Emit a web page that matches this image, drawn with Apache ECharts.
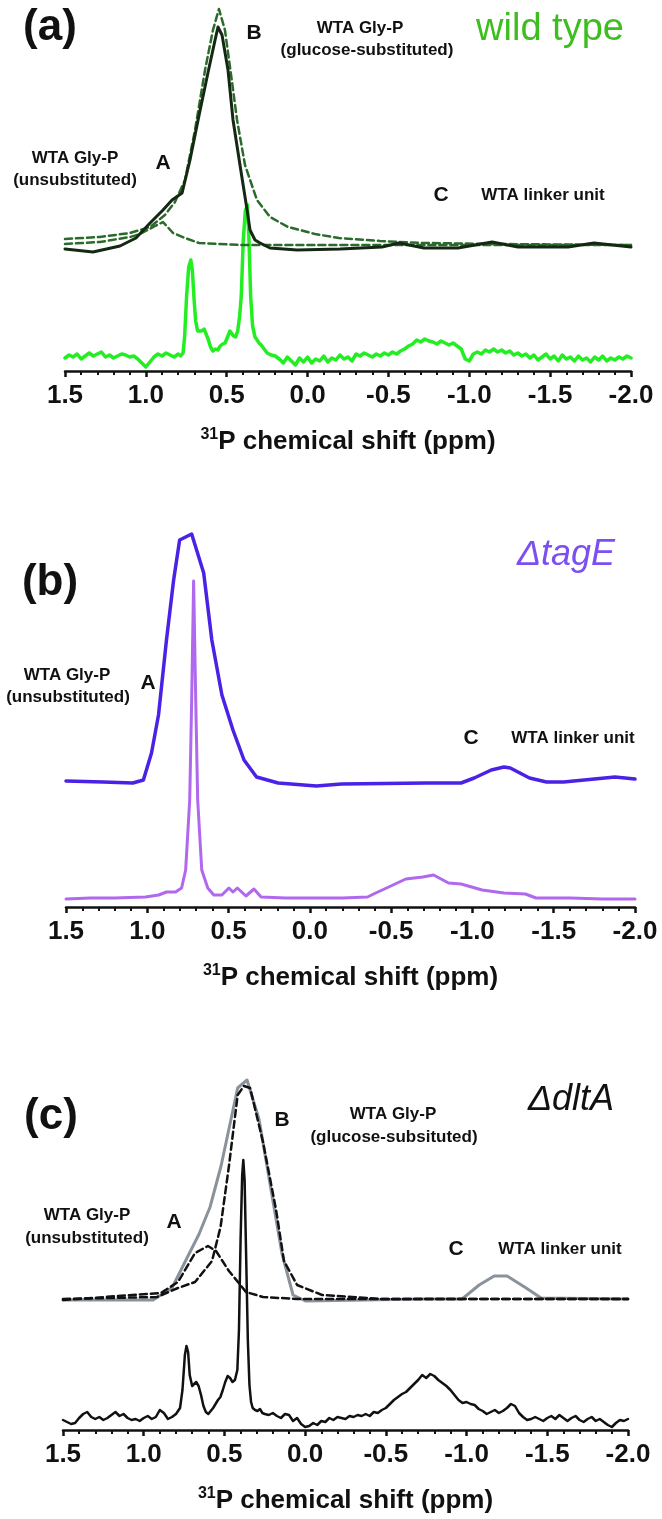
<!DOCTYPE html>
<html><head><meta charset="utf-8">
<script src="https://cdn.jsdelivr.net/npm/echarts@6/dist/echarts.min.js"></script>
<style>html,body{margin:0;padding:0;background:#fff}#c{width:662px;height:1519px}</style>
</head><body><div id="c"></div>
<script>
// ---------- axis ----------
const axisMin = -2.0, axisMax = 1.5, axisStep = 0.5;
const axisTitle = 'P chemical shift (ppm)';
const axisTitleSup = '31';

// ---------- panel (a) wild type ----------
const aGreenX = [1.5,1.475,1.45,1.425,1.4,1.375,1.35,1.325,1.3,1.275,1.25,1.225,1.2,1.175,1.15,1.125,1.1,1.075,1.05,1.025,1.0,0.975,0.95,0.925,0.9,0.875,0.85,0.825,0.8,0.785,0.77,0.76,0.748,0.735,0.722,0.712,0.702,0.692,0.68,0.668,0.655,0.64,0.628,0.615,0.6,0.585,0.57,0.555,0.54,0.525,0.51,0.495,0.48,0.47,0.458,0.445,0.432,0.42,0.41,0.398,0.385,0.372,0.362,0.352,0.34,0.325,0.312,0.3,0.287,0.275,0.25,0.225,0.2,0.175,0.15,0.125,0.1,0.075,0.05,0.025,0.0,-0.025,-0.05,-0.075,-0.1,-0.125,-0.15,-0.175,-0.2,-0.225,-0.25,-0.275,-0.3,-0.325,-0.35,-0.375,-0.4,-0.425,-0.45,-0.475,-0.5,-0.525,-0.55,-0.575,-0.6,-0.625,-0.65,-0.675,-0.7,-0.725,-0.75,-0.775,-0.8,-0.825,-0.85,-0.875,-0.9,-0.925,-0.95,-0.975,-1.0,-1.025,-1.05,-1.075,-1.1,-1.125,-1.15,-1.175,-1.2,-1.225,-1.25,-1.275,-1.3,-1.325,-1.35,-1.375,-1.4,-1.425,-1.45,-1.475,-1.5,-1.525,-1.55,-1.575,-1.6,-1.625,-1.65,-1.675,-1.7,-1.725,-1.75,-1.775,-1.8,-1.825,-1.85,-1.875,-1.9,-1.925,-1.95,-1.975,-2.0];
const aGreenY = [13,16,14,17,12,15,18,15,17,19,14,16,13,15,17,16,14,15,12,8,4,9,14,17,15,18,16,14,17,15,18,35,75,104,111,100,72,50,40,38,40,42,41,32,24,20,22,21,25,27,28,34,40,41,35,34,40,55,75,130,160,166,130,75,45,34,31,28,26,24,18,16,15,12,8,14,10,6,13,9,14,8,12,10,15,9,13,11,16,12,14,10,17,15,18,16,14,17,15,18,16,19,17,20,22,25,27,31,29,32,30,29,27,30,28,26,28,25,22,12,10,17,19,17,21,19,22,19,21,18,20,16,18,15,17,13,16,11,14,17,12,15,10,16,12,14,10,15,11,13,9,14,11,15,10,13,11,14,12,15,13];
const aSumX = [1.5,1.327,1.16,1.061,0.974,0.894,0.838,0.776,0.727,0.677,0.615,0.572,0.554,0.529,0.492,0.461,0.418,0.374,0.356,0.325,0.294,0.232,0.065,-0.201,-0.46,-0.566,-0.72,-0.93,-1.141,-1.301,-1.611,-1.771,-2.0];
const aSumY = [122,119,125,133,148,161,171,178,211,251,299,331,344,336,301,251,206,161,141,131,128,123,121,122,124,128,123,123,129,124,124,128,124];
const aFitBX = [1.5,1.284,1.098,0.974,0.882,0.82,0.758,0.696,0.634,0.585,0.548,0.511,0.473,0.436,0.387,0.313,0.232,0.121,-0.046,-0.194,-0.448,-0.72,-1.19,-2.0];
const aFitBY = [132,134,138,144,156,169,191,241,301,341,362,341,296,251,206,171,154,144,137,133,130,128,127,126];
const aFitAX = [1.5,1.284,1.098,1.036,0.943,0.894,0.832,0.758,0.671,0.418,-2.0];
const aFitAY = [127,129,134,137,145,149,138,133,128,126,126];

// ---------- panel (b) ΔtagE ----------
const bBlueX = [1.5,1.271,1.089,1.024,0.974,0.931,0.882,0.838,0.801,0.727,0.653,0.603,0.541,0.473,0.405,0.328,0.195,-0.04,-0.194,-0.72,-0.93,-1.011,-1.116,-1.194,-1.233,-1.351,-1.456,-1.561,-1.877,-2.0];
const bBlueY = [126,125,124,127,154,192,267,327,367,373,334,267,212,177,147,130,124,121,123,124,124,129,137,140,139,129,125,125,130,128];
const bPurpleX = [1.5,1.35,1.2,1.011,0.93,0.882,0.826,0.789,0.764,0.739,0.727,0.715,0.702,0.69,0.665,0.628,0.591,0.541,0.498,0.473,0.446,0.393,0.344,0.3,0.15,0.047,-0.201,-0.355,-0.405,-0.485,-0.59,-0.695,-0.761,-0.853,-0.93,-1.06,-1.194,-1.326,-1.391,-1.6,-1.8,-2.0];
const bPurpleY = [8,9,9,10,12,15,15,19,37,107,207,326,207,107,37,19,12,12,19,15,19,11,18,10,9,9,9,10,14,20,28,30,32,24,23,17,14,13,9,9,8,8];

// ---------- panel (c) ΔdltA ----------
const cGrayX = [1.5,0.942,0.825,0.732,0.657,0.589,0.521,0.418,0.36,0.286,0.208,0.143,0.075,-0.002,-0.737,-0.972,-1.078,-1.171,-1.251,-1.369,-1.462,-2.0];
const cGrayY = [130,130,142,172,196,223,264,342,350,311,237,176,135,129,131,131,145,154,154,142,132,131];
const cFitBX = [1.5,0.918,0.788,0.682,0.577,0.524,0.472,0.418,0.379,0.341,0.261,0.18,0.131,0.05,-0.105,-0.476,-2.0];
const cFitBY = [131,133,142,148,169,203,264,335,344,342,288,220,169,145,135,131,131];
const cFitAX = [1.5,0.893,0.788,0.682,0.602,0.552,0.472,0.366,0.261,0.05,-2.0];
const cFitAY = [130,137,148,177,184,179,159,138,133,131,131];
const cBlackX = [1.5,1.475,1.45,1.425,1.4,1.375,1.35,1.325,1.3,1.275,1.25,1.225,1.2,1.175,1.15,1.125,1.1,1.075,1.05,1.025,1.0,0.975,0.95,0.925,0.9,0.875,0.85,0.825,0.8,0.775,0.76,0.745,0.735,0.725,0.715,0.7,0.69,0.675,0.66,0.645,0.63,0.615,0.6,0.585,0.57,0.555,0.54,0.525,0.51,0.495,0.48,0.465,0.45,0.435,0.42,0.41,0.4,0.39,0.383,0.375,0.365,0.355,0.345,0.335,0.325,0.31,0.295,0.28,0.265,0.25,0.225,0.2,0.175,0.15,0.125,0.1,0.075,0.05,0.025,0.0,-0.025,-0.05,-0.075,-0.1,-0.125,-0.15,-0.175,-0.2,-0.225,-0.25,-0.275,-0.3,-0.325,-0.35,-0.375,-0.4,-0.425,-0.45,-0.475,-0.5,-0.525,-0.55,-0.575,-0.6,-0.625,-0.65,-0.675,-0.7,-0.725,-0.75,-0.775,-0.8,-0.825,-0.85,-0.875,-0.9,-0.925,-0.95,-0.975,-1.0,-1.025,-1.05,-1.075,-1.1,-1.125,-1.15,-1.175,-1.2,-1.225,-1.25,-1.275,-1.3,-1.325,-1.35,-1.375,-1.4,-1.425,-1.45,-1.475,-1.5,-1.525,-1.55,-1.575,-1.6,-1.625,-1.65,-1.675,-1.7,-1.725,-1.75,-1.775,-1.8,-1.825,-1.85,-1.875,-1.9,-1.925,-1.95,-1.975,-2.0];
const cBlackY = [10,8,6,7,12,16,18,13,11,13,10,12,15,18,14,16,12,10,11,9,12,14,11,13,20,17,11,13,16,22,40,75,84,78,55,44,42,48,44,35,24,18,16,19,22,26,30,33,40,48,54,52,48,50,60,100,190,255,270,250,170,90,45,28,22,20,19,21,17,16,15,17,14,12,16,15,9,12,6,3,4,7,5,9,8,12,10,13,12,11,14,13,15,14,16,14,18,17,20,22,26,30,33,36,38,42,46,50,55,52,56,54,50,47,44,40,35,30,27,28,26,25,21,19,16,18,20,17,19,22,26,24,17,13,10,11,13,11,9,12,14,11,15,12,9,12,14,10,8,11,13,9,11,8,5,3,7,10,9,11];

// ---------- build ----------
const zip = (xs, ys) => xs.map((x, i) => [x, ys[i]]);
const FONT = "'Liberation Sans', Arial, Helvetica, sans-serif";
const INK = '#111111';

const grids = [
  {left: 65, right: 31, top: 0, height: 371},
  {left: 66, right: 27, top: 500, height: 407},
  {left: 63, right: 34, top: 1030, height: 400}
];

function xAxisFor(i) {
  return {
    type: 'value', gridIndex: i, min: axisMin, max: axisMax, interval: axisStep, inverse: true,
    axisLine: {show: true, onZero: false, lineStyle: {color: INK, width: 2.5}},
    axisTick: {show: true, length: 6, lineStyle: {color: INK, width: 2.5}},
    minorTick: {show: true, splitNumber: 5, length: 4, lineStyle: {color: INK, width: 2}},
    splitLine: {show: false},
    axisLabel: {formatter: v => v.toFixed(1), fontSize: 26, fontWeight: 'bold', color: INK, fontFamily: FONT, margin: 12},
    name: '{s|' + axisTitleSup + '}{m|' + axisTitle + '}',
    nameLocation: 'middle', nameGap: 56,
    nameTextStyle: {
      color: INK, fontFamily: FONT, fontWeight: 'bold', fontSize: 26,
      rich: {
        s: {fontSize: 16, fontWeight: 'bold', fontFamily: FONT, color: INK, verticalAlign: 'top', lineHeight: 30},
        m: {fontSize: 26, fontWeight: 'bold', fontFamily: FONT, color: INK, lineHeight: 30}
      }
    }
  };
}
function yAxisFor(i, h) {
  return {type: 'value', gridIndex: i, min: 0, max: h, show: false};
}
function line(i, data, color, width, dashed, z) {
  return {
    type: 'line', xAxisIndex: i, yAxisIndex: i, data: data, showSymbol: false, symbol: 'none',
    lineStyle: {color: color, width: width, type: dashed ? [7, 4] : 'solid', cap: 'round', join: 'round'},
    z: z || 2, animation: false, silent: true
  };
}

function txt(x, y, s, size, opts) {
  opts = opts || {};
  return {
    type: 'text', x: x, y: y, silent: true,
    style: {
      text: s, fontSize: size, fontFamily: FONT, fontWeight: opts.weight || 'bold',
      fontStyle: opts.style || 'normal', fill: opts.color || INK,
      align: opts.align || 'center', verticalAlign: 'middle'
    }
  };
}

const option = {
  animation: false,
  backgroundColor: '#ffffff',
  grid: grids,
  xAxis: [xAxisFor(0), xAxisFor(1), xAxisFor(2)],
  yAxis: [yAxisFor(0, 371), yAxisFor(1, 407), yAxisFor(2, 400)],
  series: [
    line(0, zip(aGreenX, aGreenY), '#22ee22', 3.5, false, 2),
    line(0, zip(aFitAX, aFitAY), '#2a6a2a', 2.5, true, 3),
    line(0, zip(aFitBX, aFitBY), '#2a6a2a', 2.5, true, 3),
    line(0, zip(aSumX, aSumY), '#142814', 3, false, 4),
    line(1, zip(bBlueX, bBlueY), '#4a22e6', 3.5, false, 3),
    line(1, zip(bPurpleX, bPurpleY), '#b068ee', 3, false, 2),
    line(2, zip(cGrayX, cGrayY), '#8a929c', 3, false, 2),
    line(2, zip(cFitAX, cFitAY), INK, 2.5, true, 3),
    line(2, zip(cFitBX, cFitBY), INK, 2.5, true, 3),
    line(2, zip(cBlackX, cBlackY), INK, 2.5, false, 4)
  ],
  graphic: [
    // panel (a)
    txt(50, 28, '(a)', 44),
    txt(550, 30, 'wild type', 38, {weight: 'normal', color: '#3cbf1e'}),
    txt(254, 33, 'B', 21),
    txt(360, 28, 'WTA Gly-P', 17),
    txt(367, 50, '(glucose-substituted)', 17),
    txt(75, 158, 'WTA Gly-P', 17),
    txt(75, 180, '(unsubstituted)', 17),
    txt(163, 163, 'A', 21),
    txt(441, 195, 'C', 21),
    txt(543, 195, 'WTA linker unit', 17),
    // panel (b)
    txt(50, 583, '(b)', 44),
    txt(566, 555, 'ΔtagE', 36, {weight: 'normal', style: 'italic', color: '#7b4ff0'}),
    txt(67, 675, 'WTA Gly-P', 17),
    txt(68, 697, '(unsubstituted)', 17),
    txt(148, 683, 'A', 21),
    txt(471, 738, 'C', 21),
    txt(573, 738, 'WTA linker unit', 17),
    // panel (c)
    txt(51, 1117, '(c)', 44),
    txt(571, 1100, 'ΔdltA', 36, {weight: 'normal', style: 'italic', color: INK}),
    txt(282, 1120, 'B', 21),
    txt(393, 1114, 'WTA Gly-P', 17),
    txt(394, 1137, '(glucose-subsituted)', 17),
    txt(87, 1215, 'WTA Gly-P', 17),
    txt(87, 1238, '(unsubstituted)', 17),
    txt(174, 1222, 'A', 21),
    txt(456, 1249, 'C', 21),
    txt(560, 1249, 'WTA linker unit', 17)
  ]
};

const chart = echarts.init(document.getElementById('c'), null, {renderer: 'canvas', width: 662, height: 1519});
chart.setOption(option);
</script>
</body></html>
